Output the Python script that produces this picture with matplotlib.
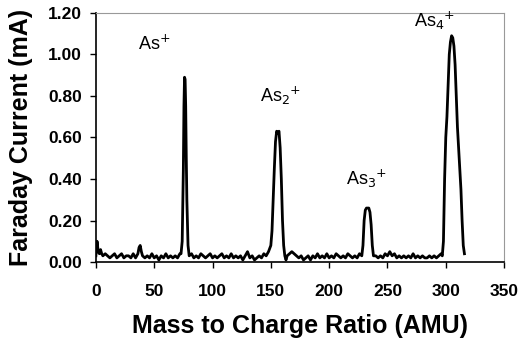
import matplotlib
matplotlib.use("Agg")
import matplotlib.pyplot as plt

plt.rcParams['font.family'] = ['Liberation Sans', 'DejaVu Sans']

# mass to charge ratio (AMU) and faraday current (mA)
mass = [0, 1, 2, 3, 4, 5, 6, 8, 10, 12,
        14, 16, 18, 20, 22, 24, 26, 28, 30, 32,
        34, 36, 37, 38, 39, 40, 42, 44, 46, 48,
        50, 52, 54, 56, 58, 60, 62, 64, 66, 68,
        70, 72, 73, 74, 75, 75.5, 76, 76.5, 77, 77.5,
        78, 79, 80, 82, 84, 86, 88, 90, 92, 94,
        96, 98, 100, 102, 104, 106, 108, 110, 112, 114,
        116, 118, 120, 122, 124, 126, 128, 130, 132, 134,
        136, 138, 140, 142, 144, 146, 148, 150, 151, 152,
        153, 154, 155, 156, 157, 158, 159, 160, 161, 162,
        163, 164, 166, 168, 170, 172, 174, 176, 178, 180,
        182, 184, 186, 188, 190, 192, 194, 196, 198, 200,
        202, 204, 206, 208, 210, 212, 214, 216, 218, 220,
        222, 224, 226, 228, 229, 230, 231, 232, 233, 234,
        235, 236, 237, 238, 240, 242, 244, 246, 248, 250,
        252, 254, 256, 258, 260, 262, 264, 266, 268, 270,
        272, 274, 276, 278, 280, 282, 284, 286, 288, 290,
        292, 294, 296, 297, 298, 299, 300, 301, 302, 303,
        304, 305, 306, 307, 308, 309, 310, 311, 312, 313,
        314, 315, 316]
current = [0.03, 0.10, 0.05, 0.04, 0.06, 0.04, 0.03, 0.04, 0.03, 0.02,
           0.03, 0.04, 0.02, 0.03, 0.04, 0.02, 0.03, 0.03, 0.02, 0.04,
           0.02, 0.04, 0.07, 0.08, 0.05, 0.03, 0.02, 0.03, 0.02, 0.04,
           0.02, 0.03, 0.01, 0.03, 0.02, 0.04, 0.02, 0.03, 0.02, 0.03,
           0.02, 0.04, 0.04, 0.10, 0.45, 0.75, 0.89, 0.88, 0.75, 0.50,
           0.30, 0.08, 0.03, 0.04, 0.02, 0.03, 0.02, 0.04, 0.03, 0.02,
           0.03, 0.04, 0.02, 0.03, 0.02, 0.03, 0.04, 0.02, 0.03, 0.02,
           0.04, 0.02, 0.03, 0.02, 0.03, 0.01, 0.03, 0.05, 0.02, 0.03,
           0.01, 0.02, 0.03, 0.02, 0.04, 0.03, 0.05, 0.08, 0.15, 0.30,
           0.45, 0.58, 0.63, 0.62, 0.63, 0.55, 0.40, 0.20, 0.08, 0.03,
           0.01, 0.03, 0.04, 0.05, 0.04, 0.03, 0.02, 0.03, 0.01, 0.02,
           0.03, 0.01, 0.03, 0.02, 0.04, 0.02, 0.03, 0.02, 0.04, 0.02,
           0.03, 0.02, 0.04, 0.03, 0.02, 0.03, 0.02, 0.04, 0.03, 0.02,
           0.03, 0.02, 0.04, 0.03, 0.08, 0.20, 0.25, 0.26, 0.26, 0.26,
           0.24, 0.18, 0.08, 0.03, 0.03, 0.02, 0.03, 0.02, 0.04, 0.03,
           0.05, 0.03, 0.04, 0.02, 0.03, 0.02, 0.03, 0.02, 0.03, 0.02,
           0.04, 0.02, 0.03, 0.02, 0.03, 0.02, 0.02, 0.03, 0.02, 0.03,
           0.02, 0.03, 0.04, 0.03, 0.10, 0.40, 0.60, 0.70, 0.85, 1.00,
           1.06, 1.09, 1.08, 1.04, 0.95, 0.80, 0.65, 0.55, 0.45, 0.35,
           0.20, 0.08, 0.04]

peak_labels = ['As$^{+}$', 'As$_{2}$$^{+}$', 'As$_{3}$$^{+}$', 'As$_{4}$$^{+}$']
label_x = [50, 158, 232, 290]
label_y = [1.05, 0.80, 0.40, 1.16]

fig = plt.figure(figsize=(5.24, 3.39), dpi=100)
ax = fig.add_axes([0.183, 0.227, 0.779, 0.735])

ax.plot(mass, current, color='black', linewidth=2.0)

for txt, x, y in zip(peak_labels, label_x, label_y):
    ax.text(x, y, txt, fontsize=13, ha='center', va='center')

ax.set_xlim(0, 350)
ax.set_ylim(0, 1.2)
ax.set_xticks(range(0, 351, 50))
ax.set_yticks([0, 0.2, 0.4, 0.6, 0.8, 1.0, 1.2])
ax.set_yticklabels(['%.2f' % v for v in ax.get_yticks()])
ax.tick_params(direction='out', length=4, width=1, labelsize=12.5)
ax.tick_params(axis='x', pad=12)
ax.tick_params(axis='y', pad=6)
for lab in ax.get_xticklabels() + ax.get_yticklabels():
    lab.set_fontweight('bold')

for side in ['top', 'right']:
    ax.spines[side].set_color('#999999')
for side in ['left', 'bottom']:
    ax.spines[side].set_linewidth(1.2)

ax.set_xlabel('Mass to Charge Ratio (AMU)', fontsize=18, fontweight='bold')
ax.set_ylabel('Faraday Current (mA)', fontsize=18, fontweight='bold')
ax.xaxis.set_label_coords(0.5, -0.21)
ax.yaxis.set_label_coords(-0.155, 0.5)

fig.savefig('out.png', dpi=100)
